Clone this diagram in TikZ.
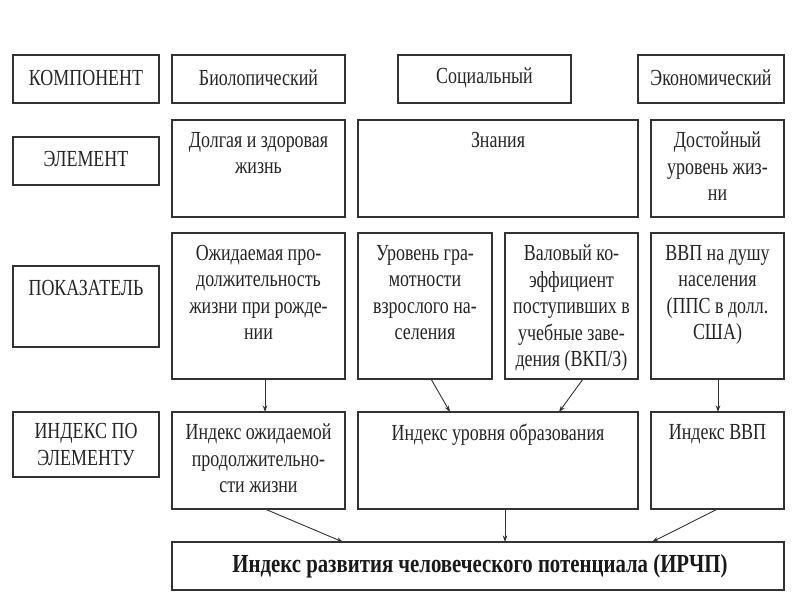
\documentclass[tikz,border=0pt]{standalone}
\usepackage{fontspec}
\setmainfont[FakeStretch=0.78]{Liberation Serif}
\newfontfamily\bigfont[FakeStretch=0.80]{Liberation Serif}
\usetikzlibrary{arrows.meta}
\begin{document}
\begin{tikzpicture}[x=1pt,y=-1pt,
  box/.style={draw=black!80, line width=1.1pt, anchor=north west, inner sep=0pt, outer sep=0pt},
  txt/.style={font=\fontsize{23}{26.5}\selectfont, align=center, inner sep=0pt, text=black!85},
  bigtxt/.style={font=\bigfont\fontsize{26}{28}\selectfont\bfseries, align=center, inner sep=0pt, text=black!90},
  arr/.style={-{Stealth[length=6.5pt,width=4.5pt]}, line width=0.9pt, draw=black!80}]
\path[use as bounding box, fill=white] (0,0) rectangle (800,600);
\newcommand\mybox[5]{\node[box, minimum width=#3pt, minimum height=#4pt] (#5) at (#1,#2) {};}
% row 1
\mybox{13}{55}{146}{48}{komp}
\mybox{172}{55}{173}{48}{bio}
\mybox{398}{55}{173}{48}{soc}
\mybox{638}{55}{146}{48}{eco}
% row 2
\mybox{13}{137}{146}{48}{elem}
\mybox{172}{120}{173}{97}{ea}
\mybox{358}{120}{280}{97}{eb}
\mybox{651}{120}{133}{97}{ec}
% row 3
\mybox{13}{266}{146}{81}{pok}
\mybox{172}{233}{173}{146}{pa}
\mybox{358}{233}{134}{146}{pb}
\mybox{505}{233}{133}{146}{pc}
\mybox{651}{233}{133}{146}{pd}
% row 4
\mybox{13}{412}{146}{65}{ind}
\mybox{172}{412}{173}{97}{ia}
\mybox{358}{412}{280}{97}{ib}
\mybox{651}{412}{133}{97}{ic}
% row 5
\mybox{172}{542}{612}{48}{hdi}
% texts
\node[txt] (tkomp) at ([yshift=1pt]komp.center) {КОМПОНЕНТ};
\node[txt] (tbio) at ([yshift=1pt]bio.center) {Биолопический};
\node[txt] (tsoc) at ([yshift=1pt]soc.center) {Социальный};
\node[txt] (teco) at ([yshift=1pt]eco.center) {Экономический};
\node[txt] (telem) at ([yshift=2pt]elem.center) {ЭЛЕМЕНТ};
\node[txt, anchor=north] (tea) at ([yshift=-12pt]ea.north) {Долгая и здоровая\\жизнь};
\node[txt, anchor=north] (teb) at ([yshift=-12pt]eb.north) {Знания};
\node[txt, anchor=north] (tec) at ([yshift=-12pt]ec.north) {Достойный\\уровень жиз-\\ни};
\node[txt, anchor=north] (tpok) at ([yshift=-14pt]pok.north) {ПОКАЗАТЕЛЬ};
\node[txt, anchor=north] (tpa) at ([yshift=-12pt]pa.north) {Ожидаемая про-\\должительность\\жизни при рожде-\\нии};
\node[txt, anchor=north] (tpb) at ([yshift=-12pt]pb.north) {Уровень гра-\\мотности\\взрослого на-\\селения};
\node[txt, anchor=north] (tpc) at ([yshift=-12pt]pc.north) {Валовый ко-\\эффициент\\поступивших в\\учебные заве-\\дения (ВКП/З)};
\node[txt, anchor=north] (tpd) at ([yshift=-12pt]pd.north) {ВВП на душу\\населения\\(ППС в долл.\\США)};
\node[txt] (tind) at (ind.center) {ИНДЕКС ПО\\ЭЛЕМЕНТУ};
\node[txt, anchor=north] (tia) at ([yshift=-12pt]ia.north) {Индекс ожидаемой\\продолжительно-\\сти жизни};
\node[txt, anchor=north] (tib) at ([yshift=-12pt]ib.north) {Индекс уровня образования};
\node[txt, anchor=north] (tic) at ([yshift=-12pt]ic.north) {Индекс ВВП};
\node[bigtxt] (thdi) at ([xshift=2pt]hdi.center) {Индекс развития человеческого потенциала (ИРЧП)};
% arrows
\draw[arr] ([xshift=6.5pt]pa.south) -- ([xshift=6.5pt]ia.north);
\draw[arr] ([xshift=6pt]pb.south) -- ([xshift=-48pt]ib.north);
\draw[arr] ([xshift=11.5pt]pc.south) -- ([xshift=61pt]ib.north);
\draw[arr] ([xshift=0.5pt]pd.south) -- ([xshift=0.5pt]ic.north);
\draw[arr] ([xshift=6.5pt]ia.south) -- ([xshift=-135pt]hdi.north);
\draw[arr] ([xshift=7pt]ib.south) -- ([xshift=27pt]hdi.north);
\draw[arr] ([xshift=0pt]ic.south) -- ([xshift=174pt]hdi.north);
\end{tikzpicture}
\end{document}
